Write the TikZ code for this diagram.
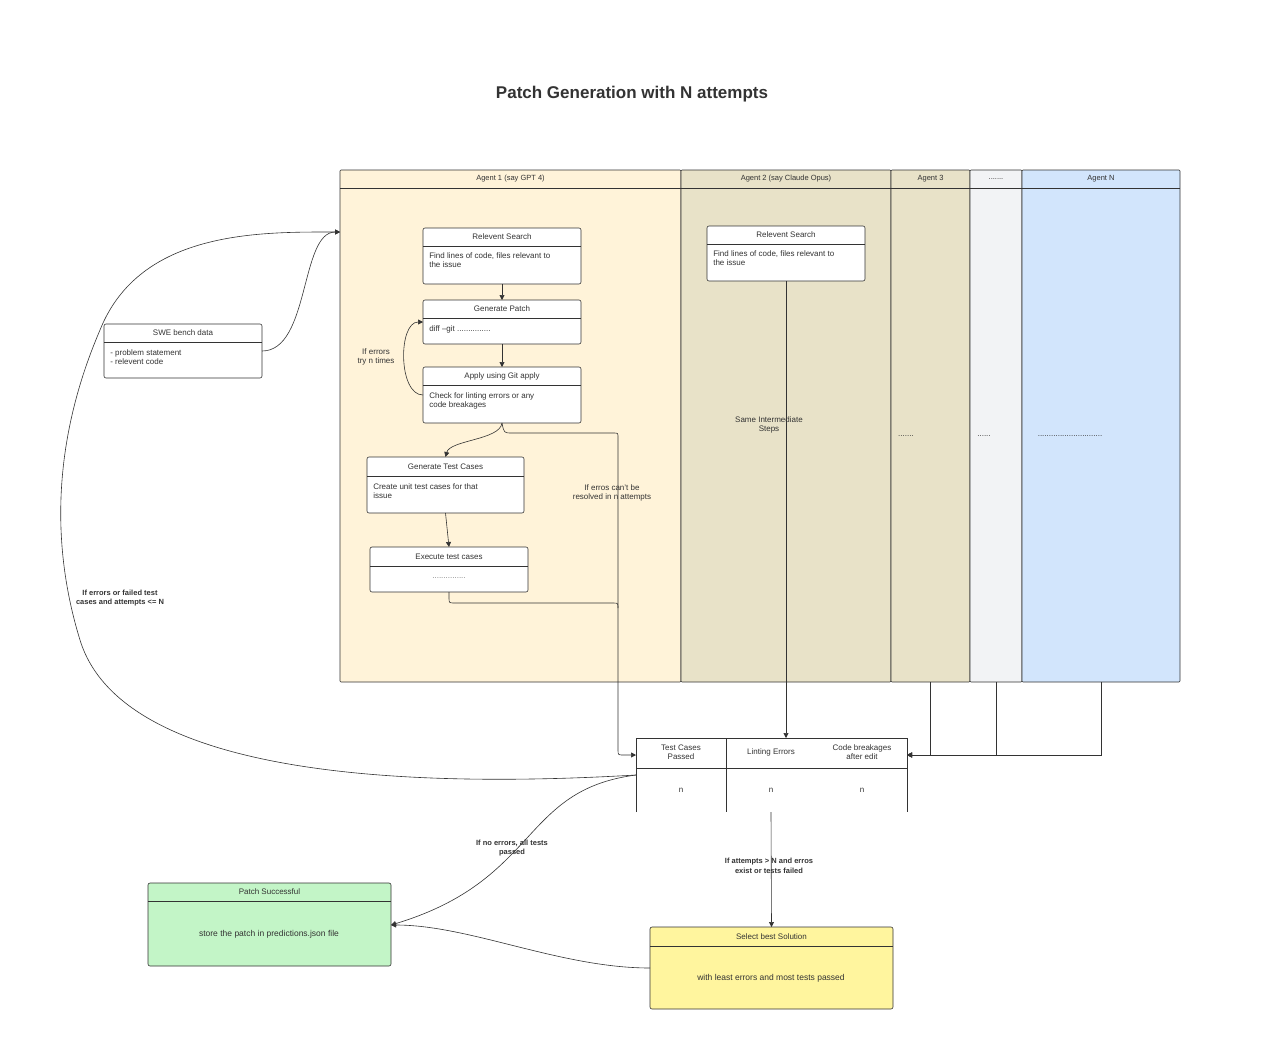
\documentclass[tikz,border=0pt]{standalone}
\usepackage{fontspec}
\setmainfont{Liberation Sans}
\usetikzlibrary{arrows.meta}
\definecolor{aone}{HTML}{FFF3D9}
\definecolor{atwo}{HTML}{E8E2C8}
\definecolor{adots}{HTML}{F2F3F5}
\definecolor{an}{HTML}{D2E5FC}
\definecolor{pgreen}{HTML}{C3F5C7}
\definecolor{pyel}{HTML}{FFF59E}
\definecolor{ln}{HTML}{333333}
\begin{document}
\begin{tikzpicture}[x=1pt,y=-1pt,
  line width=0.6pt, draw=ln,
  arr/.style={draw=ln,line width=0.6pt,-{Triangle[length=5pt,width=5pt]}},
  ln/.style={draw=ln,line width=0.6pt},
  txt/.style={font=\fontsize{8}{9.5}\selectfont,text=ln,align=left,anchor=north west,inner sep=0},
  ctxt/.style={font=\fontsize{8}{9.5}\selectfont,text=ln,align=center,inner sep=0},
  btxt/.style={font=\bfseries\fontsize{7.5}{9.5}\selectfont,text=ln,align=center,inner sep=1pt,fill=white,fill opacity=0,text opacity=1},
]
\useasboundingbox (0,0) rectangle (1280,1053);
\fill[white] (0,0) rectangle (1280,1053);
\node[font=\bfseries\fontsize{17}{20}\selectfont,text=ln] (title) at (632,94) {Patch Generation with N attempts};
% lanes
\newcommand{\lane}[6]{%
 \filldraw[fill=#5,draw=ln,rounded corners=1pt] (#1,170) rectangle (#2,682);
 \draw[ln] (#1,188) -- (#2,188);
 \node[ctxt,font=\fontsize{7.5}{9}\selectfont] (#6) at ({(#1+#2)/2},179) {#3};}
\lane{340}{681}{Agent 1 (say GPT 4)}{}{aone}{l1}
\lane{681}{891}{Agent 2 (say Claude Opus)}{}{atwo}{l2}
\lane{891}{970}{Agent 3}{}{atwo}{l3}
\lane{970}{1022}{.......}{}{adots}{l4}
\lane{1022}{1180}{Agent N}{}{an}{l5}
\coordinate (l3b) at (930,682);
\coordinate (l4b) at (996,682);
\coordinate (l5b) at (1101,682);
% boxes
\newcommand{\cbox}[9]{%
 \filldraw[fill=#8,draw=ln,rounded corners=2pt] (#2,#3) rectangle (#4,#5);
 \draw[ln] (#2,#6) -- (#4,#6);
 \node[ctxt] at ({(#2+#4)/2},{(#3+#6)/2}) {#7};
 \coordinate (#1n) at ({(#2+#4)/2},#3);
 \coordinate (#1s) at ({(#2+#4)/2},#5);
 \coordinate (#1w) at (#2,{(#3+#5)/2});
 \coordinate (#1e) at (#4,{(#3+#5)/2});
 #9}
\cbox{rs}{423}{228}{581}{284}{246}{Relevent Search}{white}{\node[txt] (rst) at (429,252) {Find lines of code, files relevant to\\the issue};}
\cbox{gp}{423}{300}{581}{344}{318}{Generate Patch}{white}{\node[txt] (gpt) at (429,325) {diff --git ...............};}
\cbox{ag}{423}{367}{581}{423}{385}{Apply using Git apply}{white}{\node[txt] (agt) at (429,392) {Check for linting errors or any\\code breakages};}
\cbox{gt}{367}{457}{524}{513}{476}{Generate Test Cases}{white}{\node[txt] (gtt) at (373,483) {Create unit test cases for that\\issue};}
\cbox{et}{370}{547}{528}{592}{566}{Execute test cases}{white}{\node[ctxt,text=gray] (ett) at (449,578) {...............};}
\cbox{rb}{707}{226}{865}{281}{244}{Relevent Search}{white}{\node[txt] (rbt) at (713,250) {Find lines of code, files relevant to\\the issue};}
\cbox{sw}{104}{324}{262}{378}{342}{SWE bench data}{white}{\node[txt] (swt) at (110,349) {- problem statement\\- relevent code};}
\cbox{ps}{148}{883}{391}{966}{901}{Patch Successful}{pgreen}{\node[ctxt,font=\fontsize{8.5}{10}\selectfont] (pst) at (269,934) {store the patch in predictions.json file};}
\cbox{sb}{650}{927}{893}{1009}{946}{Select best Solution}{pyel}{\node[ctxt,font=\fontsize{8.5}{10}\selectfont] (sbt) at (771,978) {with least errors and most tests passed};}
\coordinate (pse) at (391,925);
% table
\fill[white] (636,738) rectangle (907,812);
\draw[ln] (636,812) -- (636,738) -- (907,738) -- (907,812);
\draw[ln] (636,768) -- (907,768);
\draw[ln] (726,738) -- (726,812);
\node[ctxt] (c1) at (681,752) {Test Cases\\Passed};
\node[ctxt] (c2) at (771,752) {Linting Errors};
\node[ctxt] (c3) at (862,752) {Code breakages\\after edit};
\node[ctxt] (n1) at (681,790) {n};
\node[ctxt] (n2) at (771,790) {n};
\node[ctxt] (n3) at (862,790) {n};
\coordinate (tw) at (636,755);
\coordinate (te) at (907,755);
\coordinate (tl) at (636,775);
\coordinate (tn) at (786,738);
\coordinate (ts) at (771,812);
% lane texts
\node[ctxt] (same) at (769,425) {Same Intermediate\\Steps};
\node[ctxt] (d3) at (906,436) {.......};
\node[ctxt] (d4) at (984,436) {......};
\node[ctxt] (d5) at (1070,436) {.............................};
% connectors
\draw[arr] (rss) -- (gpn);
\draw[arr] (gps) -- (agn);
\draw[arr] (agw) .. controls (398,395) and (398,322) .. (423,322);
\node[ctxt] (lt1) at (376,357) {If errors\\try n times};
\draw[arr] (ags) .. controls (500,440) and (450,440) .. (gtn);
\draw[arr] (gts) -- (etn);
\draw[arr] (ags) .. controls (504,433) .. (512,433) -- (614,433) .. controls (618,433) .. (618,438) -- (618,750) .. controls (618,755) .. (624,755) -- (tw);
\draw[ln] (ets) -- (449,598) .. controls (449,603) .. (455,603) -- (613,603) .. controls (618,603) .. (618,608);
\node[ctxt] (lt2) at (612,493) {If erros can't be\\resolved in n attempts};
\draw[arr] (rbs) -- (tn);
\draw[arr] (l3b) -- (930,755) -- (te);
\draw[arr] (l4b) -- (996,755) -- (te);
\draw[arr] (l5b) -- (1101,755) -- (te);
\draw[arr] (swe) .. controls (310,351) and (300,232) .. (340,232);
\draw[arr] (tl) .. controls (380,790) and (120,770) .. (80,640) .. controls (40,510) and (70,400) .. (100,330) .. controls (140,230) and (260,232) .. (340,232);
\node[btxt] (lt3) at (120,598) {If errors or failed test\\cases and attempts <= N};
\draw[arr] (tl) .. controls (520,790) and (540,880) .. (pse);
\node[btxt] (lt4) at (512,848) {If no errors, all tests\\passed};
\draw[arr] (ts) -- (sbn);
\node[btxt] (lt5) at (769,866) {If attempts > N and erros\\exist or tests failed};
\draw[arr] (sbw) .. controls (560,968) and (470,925) .. (pse);
\end{tikzpicture}
\end{document}
